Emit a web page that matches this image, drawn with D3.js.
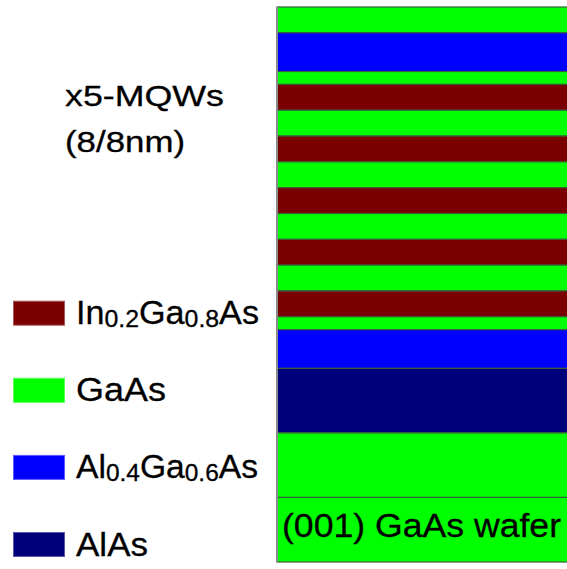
<!DOCTYPE html>
<html>
<head>
<meta charset="utf-8">
<script src="https://cdn.jsdelivr.net/npm/d3@7"></script>
<style>
  html, body { margin: 0; padding: 0; background: #fff; }
  svg { display: block; }
  text { font-family: "Liberation Sans", Arial, sans-serif; fill: #000; stroke: #000; stroke-width: 0.3px; }
</style>
</head>
<body>
<svg id="chart" width="567" height="569"></svg>
<script>
// Epitaxial layer stack, listed from the surface down to the substrate.
// Thicknesses are schematic units (the MQW wells/barriers are 8 nm each).
const layerMaterial = [
  "GaAs", "AlGaAs", "GaAs",
  "InGaAs", "GaAs", "InGaAs", "GaAs", "InGaAs", "GaAs", "InGaAs", "GaAs", "InGaAs",
  "GaAs", "AlGaAs", "AlAs", "GaAs", "GaAs"
];
const layerThickness = [8, 12, 4, 8, 8, 8, 8, 8, 8, 8, 8, 8, 4, 12, 20, 20, 20];
const layerLabel = ["", "", "", "", "", "", "", "", "", "", "", "", "", "", "", "", "(001) GaAs wafer"];

// Legend entries: key, main text pieces with subscripts
const legendKeys = ["InGaAs", "GaAs", "AlGaAs", "AlAs"];
const legendParts = [
  [["In", false], ["0.2", true], ["Ga", false], ["0.8", true], ["As", false]],
  [["GaAs", false]],
  [["Al", false], ["0.4", true], ["Ga", false], ["0.6", true], ["As", false]],
  [["AlAs", false]]
];
const legendWidths = [183, 90, 182, 72];

const mqwLines = ["x5-MQWs", "(8/8nm)"];
const mqwWidths = [159, 120];

const colorOf = d3.scaleOrdinal()
  .domain(["InGaAs", "GaAs", "AlGaAs", "AlAs"])
  .range(["#7a0000", "#00ff00", "#0000ff", "#00007a"]);

const svg = d3.select("#chart");

// vertical scale over cumulative depth
const total = d3.sum(layerThickness);
const starts = d3.cumsum([0].concat(layerThickness.slice(0, -1)));
const y = d3.scaleLinear().domain([0, total]).range([7, 562]);
const x0 = 277, x1 = 568;

const layers = layerMaterial.map((m, i) => ({
  m, t: layerThickness[i], s: starts[i], label: layerLabel[i]
}));

const stack = svg.append("g");
stack.selectAll("rect.layer")
  .data(layers)
  .join("rect")
  .attr("class", "layer")
  .attr("x", x0)
  .attr("y", d => y(d.s))
  .attr("width", x1 - x0)
  .attr("height", d => y(d.s + d.t) - y(d.s))
  .attr("fill", d => colorOf(d.m))
  .attr("stroke", "#3a5e3a")
  .attr("stroke-width", 1.2);

// left edge of the stack
stack.append("line")
  .attr("x1", x0).attr("x2", x0)
  .attr("y1", y(0)).attr("y2", y(total))
  .attr("stroke", "#8a8a8a")
  .attr("stroke-width", 2);

stack.selectAll("text.layer-label")
  .data(layers.filter(d => d.label))
  .join("text")
  .attr("class", "layer-label")
  .attr("x", x0 + 5)
  .attr("y", d => y(d.s + d.t) - 25.5)
  .attr("font-size", 33)
  .attr("textLength", 279)
  .attr("lengthAdjust", "spacingAndGlyphs")
  .text(d => d.label);

// MQW annotation
svg.selectAll("text.mqw")
  .data(mqwLines)
  .join("text")
  .attr("class", "mqw")
  .attr("x", 65)
  .attr("y", (d, i) => 106 + i * 46)
  .attr("font-size", 30)
  .attr("textLength", (d, i) => mqwWidths[i])
  .attr("lengthAdjust", "spacingAndGlyphs")
  .text(d => d);

// Legend
const ly = d3.scalePoint().domain(legendKeys).range([300.7, 532]);
const legend = svg.selectAll("g.legend")
  .data(legendKeys)
  .join("g")
  .attr("class", "legend")
  .attr("transform", d => `translate(0,${ly(d)})`);

legend.append("rect")
  .attr("x", 13.5).attr("y", 0.5)
  .attr("width", 51).attr("height", 24)
  .attr("fill", d => colorOf(d))
  .attr("stroke", d => d3.interpolateRgb(colorOf(d), "#ffffff")(0.35))
  .attr("stroke-width", 1);

legend.append("text")
  .attr("x", 76)
  .attr("y", 23.5)
  .attr("font-size", 33)
  .attr("textLength", (d, i) => legendWidths[i])
  .attr("lengthAdjust", "spacingAndGlyphs")
  .each(function(d, i) {
    const t = d3.select(this);
    const parts = legendParts[i];
    parts.forEach(([s, sub], j) => {
      let dy = 0;
      if (sub) dy = 3;
      else if (j > 0 && parts[j - 1][1]) dy = -3;
      t.append("tspan")
        .attr("font-size", sub ? 24 : 33)
        .attr("dy", dy)
        .text(s);
    });
  });
</script>
</body>
</html>
